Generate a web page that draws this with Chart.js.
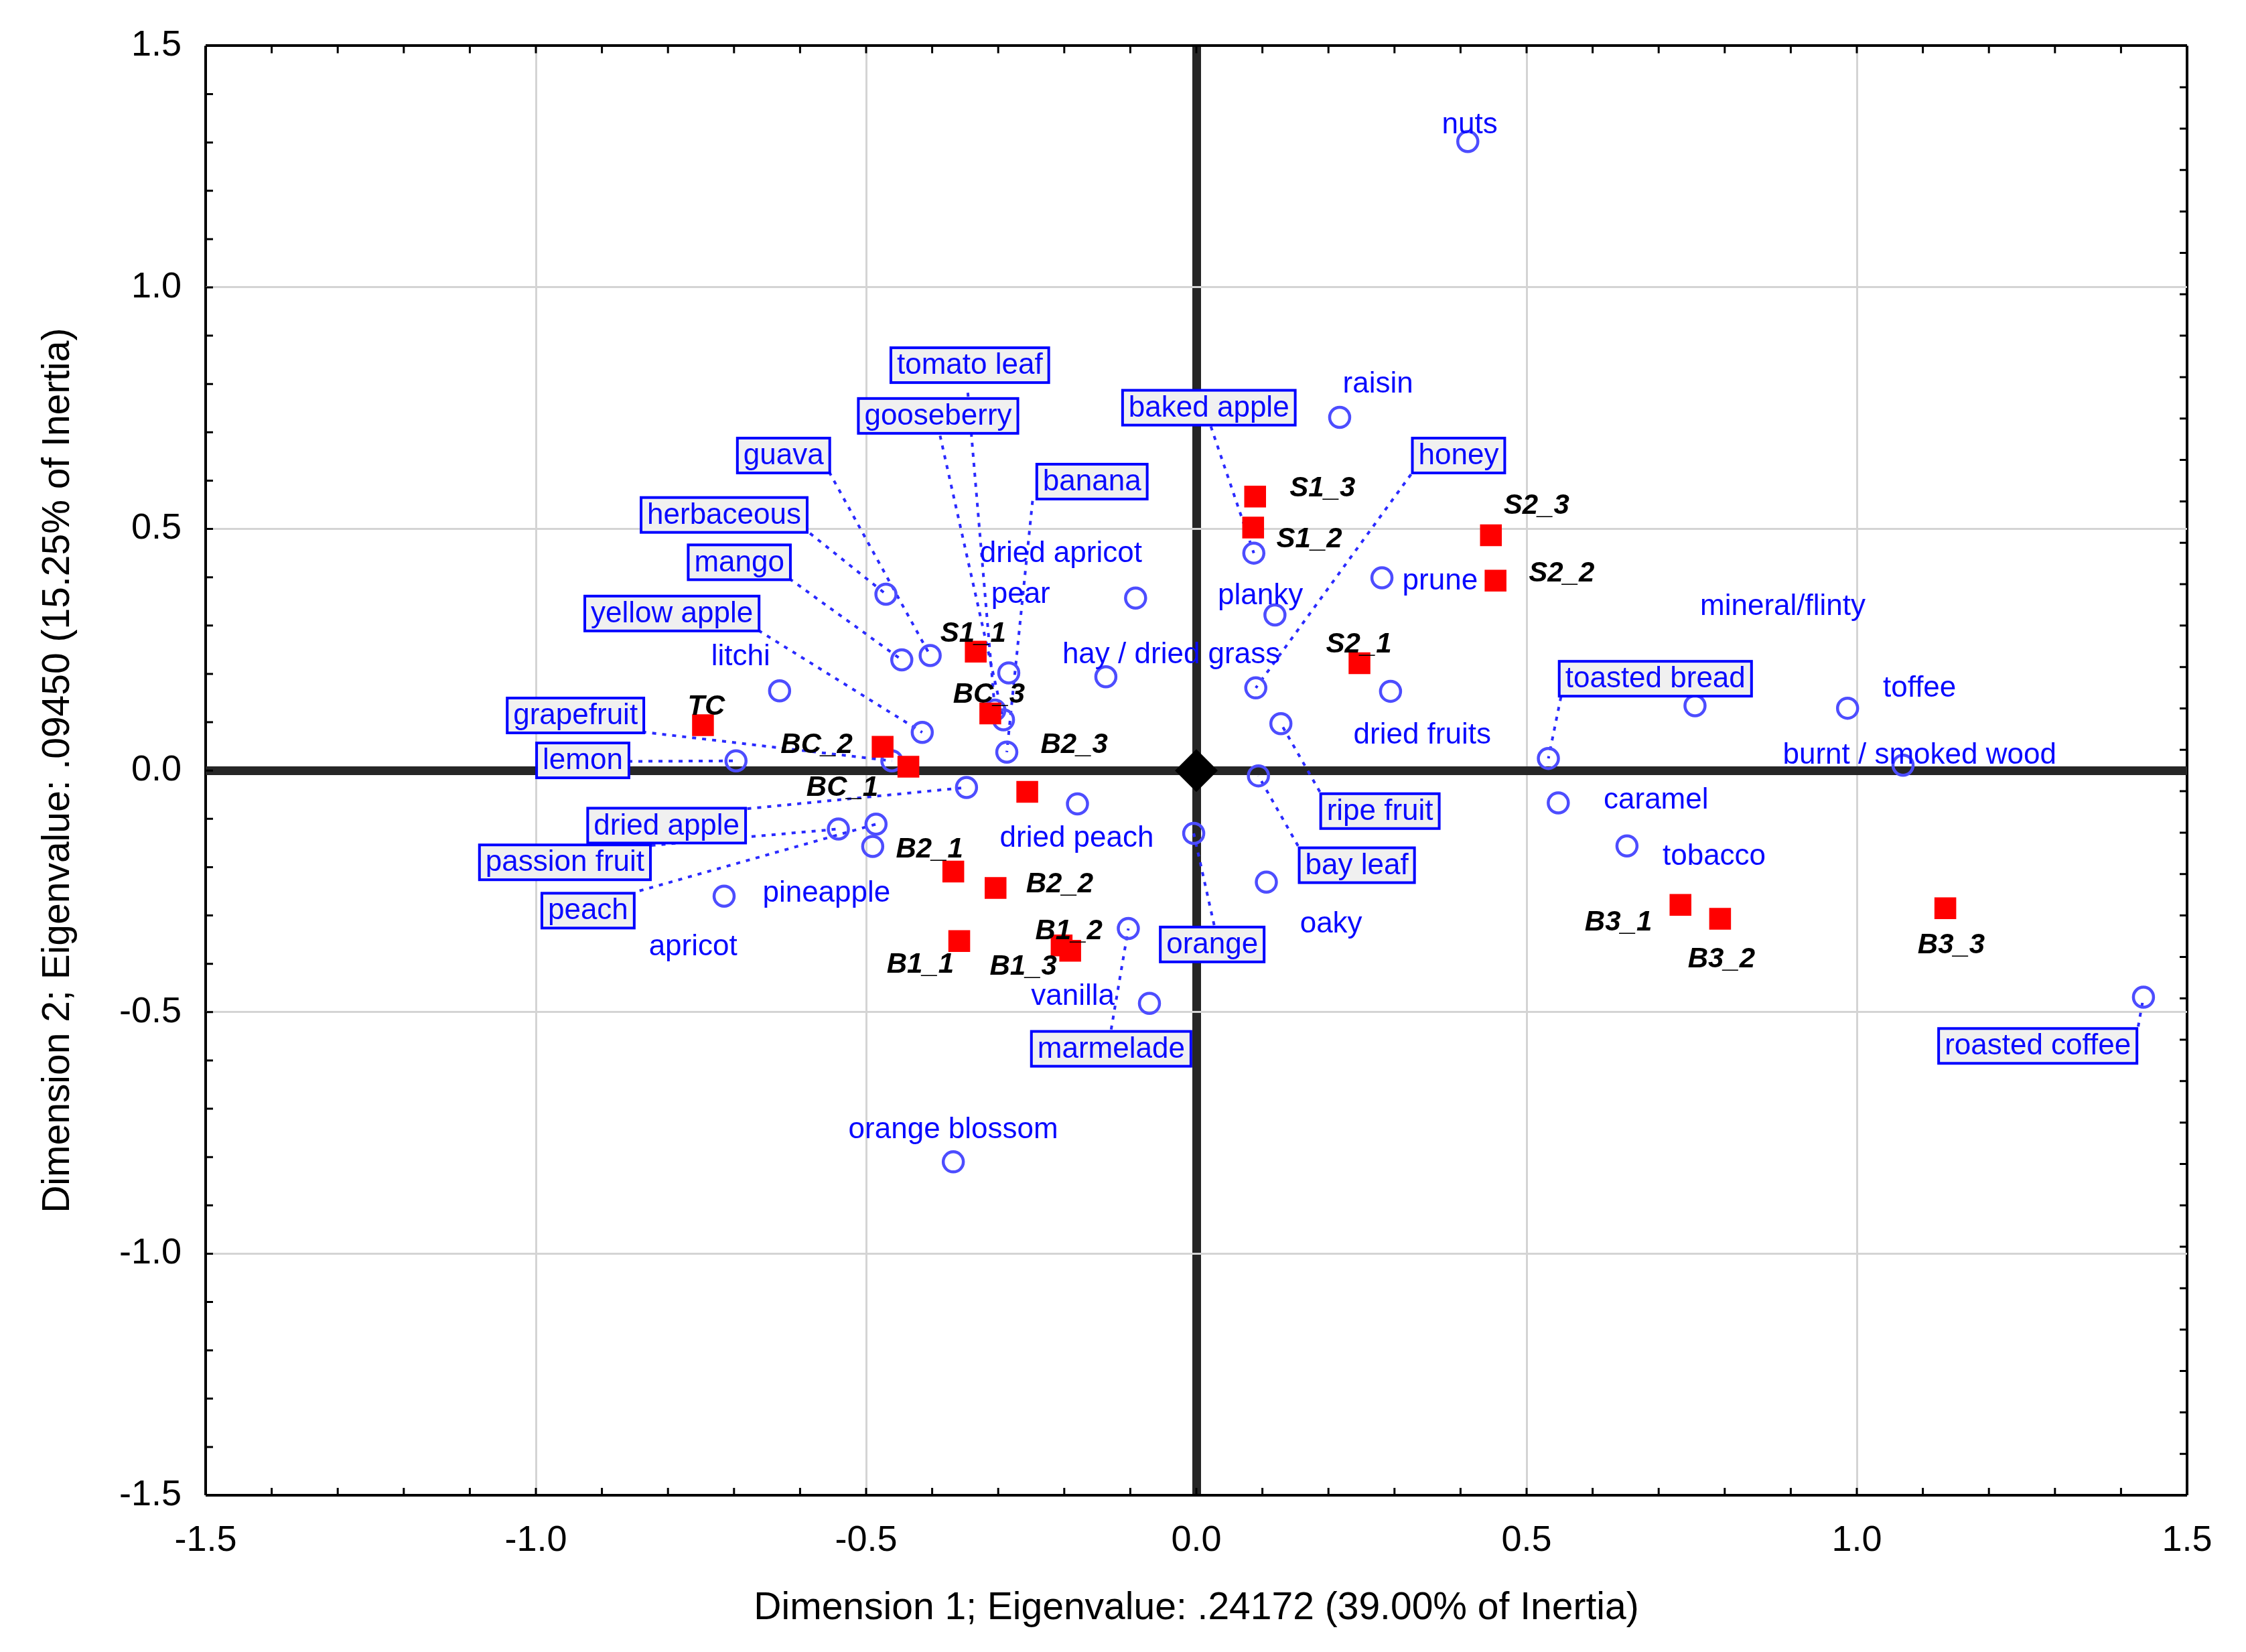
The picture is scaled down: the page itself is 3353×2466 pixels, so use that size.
<!DOCTYPE html>
<html><head><meta charset="utf-8">
<script src="https://cdn.jsdelivr.net/npm/chart.js@4.4.1/dist/chart.umd.min.js"></script>
<style>html,body{margin:0;padding:0;background:#fff;}#wrap{width:3353px;height:2466px;}</style>
</head><body><div id="wrap"><canvas id="c" width="3353" height="2466"></canvas></div>
<script>
// ---- data ----
const attrNames = ["nuts","raisin","prune","planky","baked apple","honey","dried fruits","ripe fruit","bay leaf","toasted bread",
  "mineral/flinty","toffee","burnt / smoked wood","caramel","tobacco","oaky","orange","marmelade","vanilla","roasted coffee",
  "orange blossom","dried peach","hay / dried grass","dried apricot","pear","banana","tomato leaf","gooseberry","guava","herbaceous",
  "mango","yellow apple","litchi","grapefruit","lemon","dried apple","passion fruit","peach","pineapple","apricot"];
const attrX = [0.411,0.217,0.281,0.119,0.087,0.090,0.294,0.128,0.094,0.533,
  0.755,0.986,1.070,0.548,0.652,0.106,-0.004,-0.103,-0.071,1.434,
  -0.368,-0.180,-0.137,-0.092,-0.284,-0.287,-0.305,-0.292,-0.403,-0.470,
  -0.446,-0.415,-0.631,-0.461,-0.697,-0.348,-0.542,-0.485,-0.715,-0.490];
const attrY = [1.302,0.731,0.399,0.322,0.450,0.171,0.164,0.097,-0.011,0.025,
  0.134,0.129,0.011,-0.067,-0.156,-0.231,-0.130,-0.327,-0.482,-0.469,
  -0.810,-0.069,0.194,0.357,0.202,0.038,0.125,0.105,0.238,0.365,
  0.229,0.079,0.165,0.020,0.020,-0.035,-0.121,-0.111,-0.260,-0.157];

const sampleNames = ["TC","BC_1","BC_2","BC_3","S1_1","S1_2","S1_3","S2_1","S2_2","S2_3",
  "B1_1","B1_2","B1_3","B2_1","B2_2","B2_3","B3_1","B3_2","B3_3"];
const sampleX = [-0.747,-0.436,-0.475,-0.312,-0.334,0.086,0.089,0.247,0.453,0.446,
  -0.359,-0.191,-0.204,-0.368,-0.304,-0.256,0.733,0.793,1.134];
const sampleY = [0.094,0.008,0.049,0.118,0.246,0.503,0.567,0.222,0.393,0.487,
  -0.353,-0.373,-0.362,-0.209,-0.243,-0.044,-0.278,-0.307,-0.285];

const originX = [0];
const originY = [0];

const tickValues = [-1.5,-1.0,-0.5,0.0,0.5,1.0,1.5];
const xTitle = "Dimension 1; Eigenvalue: .24172 (39.00% of Inertia)";
const yTitle = "Dimension 2; Eigenvalue: .09450 (15.25% of Inertia)";

// ---- label layout (annotation placement, data units) ----
const attrLabelX = [0.414,0.275,0.369,0.097,0.019,0.397,0.342,0.278,0.243,0.695,
  0.888,1.095,1.095,0.696,0.784,0.204,0.024,-0.129,-0.187,1.274,
  -0.368,-0.181,-0.038,-0.205,-0.266,-0.158,-0.343,-0.391,-0.625,-0.715,
  -0.692,-0.794,-0.690,-0.940,-0.929,-0.802,-0.956,-0.921,-0.560,-0.762];
const attrLabelY = [1.337,0.801,0.393,0.363,0.751,0.652,0.074,-0.084,-0.196,0.190,
  0.340,0.171,0.033,-0.061,-0.177,-0.317,-0.360,-0.576,-0.467,-0.570,
  -0.743,-0.140,0.240,0.450,0.365,0.598,0.839,0.734,0.652,0.529,
  0.431,0.325,0.236,0.114,0.021,-0.114,-0.190,-0.290,-0.253,-0.364];
const attrLeadX = [null,null,null,null,0.022,0.325,null,0.187,0.154,0.552,
  null,null,null,null,null,null,0.027,-0.129,null,1.426,
  null,null,null,null,null,-0.248,-0.346,-0.388,-0.556,-0.585,
  -0.616,-0.663,null,-0.839,-0.860,-0.680,-0.825,-0.843,null,null];
const attrLeadY = [null,null,null,null,0.712,0.613,null,-0.044,-0.156,0.152,
  null,null,null,null,null,null,-0.320,-0.536,null,-0.530,
  null,null,null,null,null,0.558,0.782,0.693,0.618,0.491,
  0.397,0.290,null,0.080,0.019,-0.079,-0.155,-0.249,null,null];
const sampleLabelX = [-0.742,-0.536,-0.575,-0.314,-0.338,0.171,0.191,0.246,0.553,0.515,
  -0.418,-0.193,-0.262,-0.404,-0.207,-0.185,0.639,0.795,1.143];
const sampleLabelY = [0.132,-0.036,0.052,0.156,0.283,0.478,0.584,0.261,0.407,0.547,
  -0.403,-0.333,-0.406,-0.164,-0.236,0.052,-0.315,-0.392,-0.362];

const rightTickCount = 35;
const FONT = "'Liberation Sans', Arial, sans-serif";
const BLUE = '#0a0aff';

const pts = (xs, ys) => xs.map((v, i) => ({x: v, y: ys[i]}));

const overlay = {
  id: 'overlay',
  beforeDatasetsDraw(chart) {
    const {ctx, scales: {x, y}} = chart;
    ctx.save();
    ctx.strokeStyle = '#2a2aff';
    ctx.lineWidth = 4;
    ctx.setLineDash([6, 9]);
    attrNames.forEach((n, i) => {
      if (attrLeadX[i] === null) return;
      ctx.beginPath();
      ctx.moveTo(x.getPixelForValue(attrLeadX[i]), y.getPixelForValue(attrLeadY[i]));
      ctx.lineTo(x.getPixelForValue(attrX[i]), y.getPixelForValue(attrY[i]));
      ctx.stroke();
    });
    ctx.restore();
  },
  afterDatasetsDraw(chart) {
    const {ctx, scales: {x, y}} = chart;
    ctx.save();
    ctx.textAlign = 'center';
    ctx.textBaseline = 'middle';
    ctx.font = `italic bold 42px ${FONT}`;
    ctx.fillStyle = '#000';
    sampleNames.forEach((n, i) => {
      ctx.fillText(n, x.getPixelForValue(sampleLabelX[i]), y.getPixelForValue(sampleLabelY[i]));
    });
    ctx.font = `44px ${FONT}`;
    attrNames.forEach((n, i) => {
      const px = x.getPixelForValue(attrLabelX[i]);
      const py = y.getPixelForValue(attrLabelY[i]);
      if (attrLeadX[i] !== null) {
        const w = ctx.measureText(n).width + 18;
        const h = 52;
        ctx.fillStyle = '#f0f0f0';
        ctx.fillRect(px - w / 2, py - h / 2, w, h);
        ctx.strokeStyle = '#0000ff';
        ctx.lineWidth = 4;
        ctx.strokeRect(px - w / 2, py - h / 2, w, h);
      }
      ctx.fillStyle = BLUE;
      ctx.fillText(n, px, py + 1);
    });
    ctx.restore();
  },
  afterDraw(chart) {
    const {ctx, chartArea: a, scales: {x, y}} = chart;
    const L = 11;
    ctx.save();
    ctx.strokeStyle = '#000';
    ctx.lineWidth = 3;
    ctx.beginPath();
    for (let i = 0; i <= 30; i++) {
      const v = -1.5 + i * 0.1;
      const px = x.getPixelForValue(v);
      ctx.moveTo(px, a.top); ctx.lineTo(px, a.top + L);
      ctx.moveTo(px, a.bottom); ctx.lineTo(px, a.bottom - L);
      const py = y.getPixelForValue(v);
      ctx.moveTo(a.left, py); ctx.lineTo(a.left + L, py);
    }
    for (let i = 0; i <= rightTickCount; i++) {
      const py = y.getPixelForValue(-1.5 + i * 3 / rightTickCount);
      ctx.moveTo(a.right, py); ctx.lineTo(a.right - L, py);
    }
    ctx.stroke();
    ctx.restore();
  }
};

const gridColor = (ctx) => {
  const v = ctx.tick ? ctx.tick.value : null;
  if (v === 0) return '#262626';
  if (v === -1.5 || v === 1.5) return '#000';
  return '#d4d4d4';
};
const gridWidth = (ctx) => {
  const v = ctx.tick ? ctx.tick.value : null;
  if (v === 0) return 13;
  if (v === -1.5 || v === 1.5) return 4;
  return 3;
};
const setTicks = (scale) => { scale.ticks = tickValues.map(v => ({value: v})); };

new Chart(document.getElementById('c'), {
  type: 'scatter',
  data: {
    datasets: [
      {data: pts(originX, originY), pointStyle: 'rectRot', pointRadius: 32, backgroundColor: '#000', borderWidth: 0},
      {data: pts(sampleX, sampleY), pointStyle: 'rect', pointRadius: 23, backgroundColor: '#ff0000', borderWidth: 0},
      {data: pts(attrX, attrY), pointStyle: 'circle', pointRadius: 15, backgroundColor: 'rgba(0,0,0,0)', borderColor: '#4d4dff', borderWidth: 4.5}
    ]
  },
  options: {
    responsive: false,
    animation: false,
    devicePixelRatio: 1,
    layout: {padding: {left: 0, top: 62, right: 88, bottom: 0}},
    plugins: {legend: {display: false}, tooltip: {enabled: false}},
    scales: {
      x: {
        type: 'linear', min: -1.5, max: 1.5,
        afterBuildTicks: setTicks,
        afterFit: (s) => { s.height = 234; },
        border: {display: false},
        grid: {color: gridColor, lineWidth: gridWidth, drawTicks: false},
        ticks: {padding: 36, color: '#000', font: {family: FONT, size: 54}, maxRotation: 0, autoSkip: false,
          callback: (v) => Number(v).toFixed(1)},
        title: {display: true, text: xTitle, color: '#000', font: {family: FONT, size: 57}, padding: {top: 0, bottom: 31}}
      },
      y: {
        type: 'linear', min: -1.5, max: 1.5,
        afterBuildTicks: setTicks,
        afterFit: (s) => { s.width = 307; },
        border: {display: false},
        grid: {color: gridColor, lineWidth: gridWidth, drawTicks: false},
        ticks: {padding: 36, color: '#000', font: {family: FONT, size: 54}, autoSkip: false,
          callback: (v) => Number(v).toFixed(1)},
        title: {display: true, text: yTitle, color: '#000', font: {family: FONT, size: 57}, padding: {top: 53, bottom: 0}}
      }
    }
  },
  plugins: [overlay]
});
</script>
</body></html>
